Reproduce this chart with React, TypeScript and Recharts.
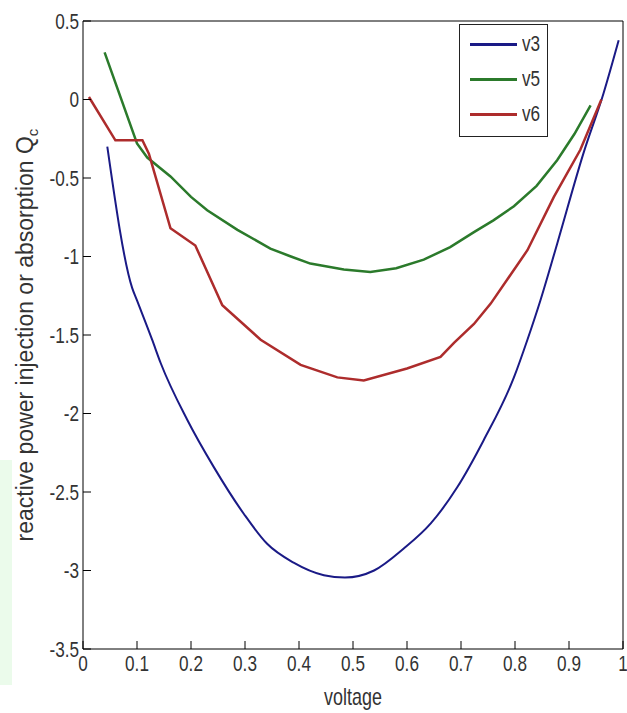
import React from "react";
import { LineChart, Line, XAxis, YAxis, Legend } from "recharts";

// values
const v3Voltage = [0.045, 0.091, 0.1, 0.128, 0.144, 0.193, 0.242, 0.298, 0.341, 0.39, 0.446, 0.485, 0.539, 0.594, 0.644, 0.693, 0.742, 0.798, 0.823, 0.847, 0.878, 0.927, 0.964, 0.992];
const v3Q = [-0.3, -1.2, -1.28, -1.53, -1.68, -2.04, -2.34, -2.64, -2.83, -2.95, -3.03, -3.045, -3.0, -2.86, -2.7, -2.47, -2.17, -1.77, -1.53, -1.28, -0.92, -0.34, 0.04, 0.377];

const v5Voltage = [0.04, 0.1, 0.119, 0.162, 0.2, 0.23, 0.286, 0.347, 0.385, 0.421, 0.483, 0.532, 0.58, 0.631, 0.68, 0.724, 0.76, 0.798, 0.84, 0.878, 0.91, 0.94];
const v5Q = [0.3, -0.28, -0.37, -0.49, -0.62, -0.705, -0.83, -0.95, -1.0, -1.045, -1.083, -1.098, -1.075, -1.02, -0.94, -0.845, -0.77, -0.68, -0.55, -0.387, -0.22, -0.037];

const v6Voltage = [0.011, 0.06, 0.11, 0.122, 0.162, 0.208, 0.258, 0.329, 0.403, 0.471, 0.52, 0.6, 0.662, 0.687, 0.724, 0.755, 0.823, 0.872, 0.921, 0.96];
const v6Q = [0.016, -0.26, -0.26, -0.345, -0.82, -0.93, -1.31, -1.53, -1.69, -1.77, -1.79, -1.713, -1.64, -1.55, -1.43, -1.3, -0.96, -0.62, -0.32, 0.0];

const xTicks = [0, 0.1, 0.2, 0.3, 0.4, 0.5, 0.6, 0.7, 0.8, 0.9, 1];
const yTicks = [-3.5, -3, -2.5, -2, -1.5, -1, -0.5, 0, 0.5];

const toPoints = (xs: number[], ys: number[]) => xs.map((x, i) => ({ voltage: x, q: ys[i] }));

const v3Data = toPoints(v3Voltage, v3Q);
const v5Data = toPoints(v5Voltage, v5Q);
const v6Data = toPoints(v6Voltage, v6Q);

const font = "'Liberation Sans', Arial, sans-serif";

// matlab-ish tall narrow digits
const XTick = ({ x, y, payload }: any) => (
  <text
    transform={`translate(${x},${y}) scale(0.78,1)`}
    textAnchor="middle"
    dy="0.71em"
    fontSize={22}
    fontFamily={font}
    fill="#333"
  >
    {payload.value}
  </text>
);

const YTick = ({ x, y, payload }: any) => (
  <text
    transform={`translate(${x},${y}) scale(0.78,1)`}
    textAnchor="end"
    dy="0.355em"
    fontSize={22}
    fontFamily={font}
    fill="#333"
  >
    {payload.value}
  </text>
);

const YTitle = ({ viewBox }: any) => {
  const cx = viewBox.x + 33;
  const cy = viewBox.y + viewBox.height / 2;
  return (
    <text
      x={cx}
      y={cy}
      transform={`rotate(-90 ${cx} ${cy})`}
      textAnchor="middle"
      fontSize={23}
      fontFamily={font}
      fill="#333"
    >
      reactive power injection or absorption Q
      <tspan fontSize={15} dy={5}>c</tspan>
    </text>
  );
};

const XTitle = ({ viewBox }: any) => (
  <text
    transform={`translate(${viewBox.x + viewBox.width / 2},${viewBox.y + 56}) scale(0.78,1)`}
    textAnchor="middle"
    fontSize={23}
    fontFamily={font}
    fill="#333"
  >
    voltage
  </text>
);

const LegendBox = ({ payload }: any) => (
  <div
    style={{
      width: 89,
      height: 113,
      boxSizing: "border-box",
      border: "1px solid #222",
      background: "#fff",
      position: "relative",
    }}
  >
    {(payload || []).map((entry: any, i: number) => (
      <div
        key={entry.value}
        style={{
          position: "absolute",
          left: 10,
          top: 8 + i * 35,
          height: 22,
          display: "flex",
          alignItems: "center",
        }}
      >
        <span style={{ display: "inline-block", width: 47, height: 3, background: entry.color }} />
        <span
          style={{
            display: "inline-block",
            marginLeft: 5,
            fontSize: 22,
            fontFamily: font,
            color: "#333",
            transform: "scaleX(0.78)",
            transformOrigin: "left center",
          }}
        >
          {entry.value}
        </span>
      </div>
    ))}
  </div>
);

export default function App() {
  return (
    <div style={{ position: "absolute", left: 0, top: 0, width: 627, height: 713, background: "#fff" }}>
      <div style={{ position: "absolute", left: 0, top: 460, width: 12, height: 225, background: "#ebfbeb" }} />
      <LineChart width={627} height={713} margin={{ top: 0, right: 0, left: 0, bottom: 0 }}>
        <XAxis
          xAxisId="bottom"
          dataKey="voltage"
          type="number"
          domain={[0, 1]}
          ticks={xTicks}
          height={64}
          tickSize={-8}
          tickMargin={14}
          stroke="#000"
          tick={<XTick />}
          label={{ content: (p: any) => <XTitle {...p} /> }}
        />
        <XAxis
          xAxisId="top"
          orientation="top"
          dataKey="voltage"
          type="number"
          domain={[0, 1]}
          ticks={xTicks}
          height={21}
          tickSize={-8}
          tick={false}
          stroke="#000"
        />
        <YAxis
          yAxisId="left"
          type="number"
          domain={[-3.5, 0.5]}
          ticks={yTicks}
          width={83}
          tickSize={-8}
          tickMargin={12}
          stroke="#000"
          tick={<YTick />}
          label={{ content: (p: any) => <YTitle {...p} /> }}
        />
        <YAxis
          yAxisId="right"
          orientation="right"
          type="number"
          domain={[-3.5, 0.5]}
          ticks={yTicks}
          width={4}
          tickSize={-8}
          tick={false}
          stroke="#000"
        />
        <Legend
          layout="vertical"
          align="center"
          verticalAlign="middle"
          wrapperStyle={{ left: 459, top: 24, width: 89 }}
          content={(p: any) => <LegendBox {...p} />}
        />
        <Line
          xAxisId="bottom"
          yAxisId="left"
          name="v3"
          data={v3Data}
          dataKey="q"
          type="monotone"
          stroke="#1a1a86"
          strokeWidth={2}
          dot={false}
          isAnimationActive={false}
        />
        <Line
          xAxisId="bottom"
          yAxisId="left"
          name="v5"
          data={v5Data}
          dataKey="q"
          type="linear"
          stroke="#2b7a2b"
          strokeWidth={2.5}
          dot={false}
          isAnimationActive={false}
        />
        <Line
          xAxisId="bottom"
          yAxisId="left"
          name="v6"
          data={v6Data}
          dataKey="q"
          type="linear"
          stroke="#ad2c2c"
          strokeWidth={2.5}
          dot={false}
          isAnimationActive={false}
        />
      </LineChart>
    </div>
  );
}
